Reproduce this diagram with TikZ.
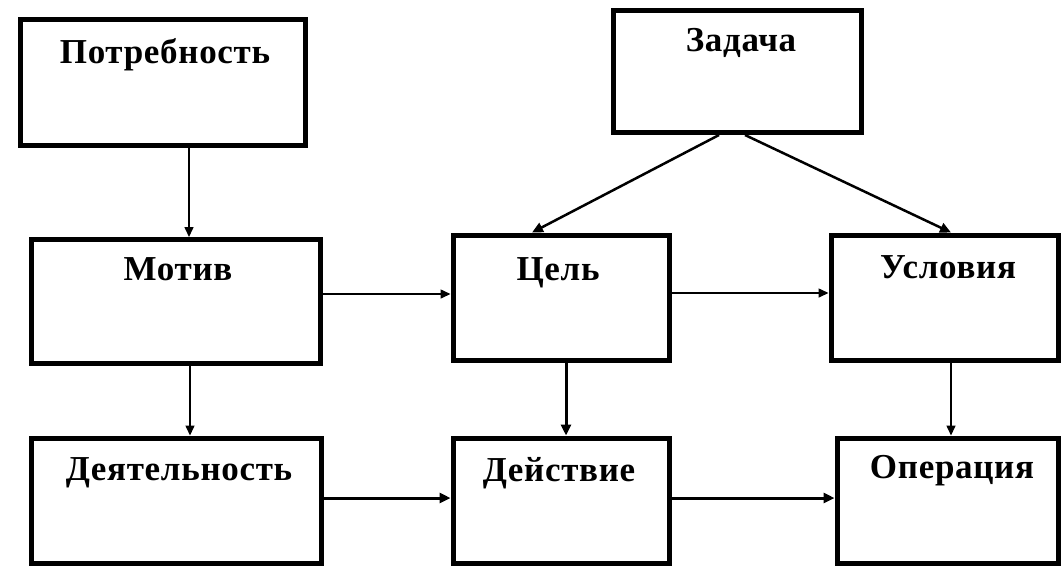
\documentclass[tikz,border=0pt]{standalone}
\usepackage{fontspec}
\setmainfont{Liberation Serif}[LetterSpace=2]
\usetikzlibrary{arrows.meta}
\tikzset{
  box/.style={draw=black, line width=5pt, inner sep=0pt, fill=white},
  lbl/.style={anchor=base, inner sep=0pt, font=\fontsize{35}{42}\selectfont\bfseries},
  arrthin/.style={line width=1.5pt, -{Triangle[length=10pt,width=9pt]}},
  arrmid/.style={line width=2.5pt, -{Triangle[length=11pt,width=10pt]}},
  arrthick/.style={line width=3pt, -{Triangle[length=11pt,width=10pt]}}
}
\begin{document}
\begin{tikzpicture}[x=1pt,y=-1pt]
\useasboundingbox (0,0) rectangle (1062,566);
\fill[white] (0,0) rectangle (1062,566);
% boxes
\node[box, minimum width=285pt, minimum height=126pt] (potr) at (162.5,82) {};
\node[box, minimum width=248pt, minimum height=122pt] (zad) at (737.5,71.5) {};
\node[box, minimum width=289pt, minimum height=124pt] (motiv) at (176,301.5) {};
\node[box, minimum width=216pt, minimum height=125pt] (cel) at (561,297.5) {};
\node[box, minimum width=227pt, minimum height=125pt] (usl) at (944.5,297.5) {};
\node[box, minimum width=289.5pt, minimum height=125pt] (deyat) at (176.25,500.5) {};
\node[box, minimum width=216pt, minimum height=125pt] (deystv) at (561,500.5) {};
\node[box, minimum width=221pt, minimum height=125pt] (oper) at (947.5,500.5) {};
% labels
\node[lbl] (tpotr) at (165,63) {Потребность};
\node[lbl] (tzad) at (741,51) {Задача};
\node[lbl] (tmotiv) at (178,280) {Мотив};
\node[lbl] (tcel) at (558,280) {Цель};
\node[lbl] (tusl) at (948,278) {Условия};
\node[lbl] (tdeyat) at (179,480) {Деятельность};
\node[lbl] (tdeystv) at (559,481) {Действие};
\node[lbl] (toper) at (952,478) {Операция};
% connectors
\draw[arrthin] ([xshift=26.5pt]potr.south) -- ([xshift=13pt]motiv.north);
\draw[arrthin] ([xshift=14pt]motiv.south) -- ([xshift=13.75pt]deyat.north);
\draw[arrthin] ([yshift=7.5pt]motiv.east) -- ([yshift=3.5pt]cel.west);
\draw[arrthin] ([yshift=4.5pt]cel.east) -- ([yshift=4.5pt]usl.west);
\draw[arrthin] ([xshift=6.5pt]usl.south) -- ([xshift=3.5pt]oper.north);
\draw[arrthick] ([xshift=5pt]cel.south) -- ([xshift=5pt]deystv.north);
\draw[arrthick] ([yshift=2.5pt]deyat.east) -- ([yshift=2.5pt]deystv.west);
\draw[arrthick] ([yshift=2.5pt]deystv.east) -- ([yshift=2.5pt]oper.west);
\draw[arrmid] ([xshift=-18.5pt]zad.south) -- ([xshift=-29pt]cel.north);
\draw[arrmid] ([xshift=7.5pt]zad.south) -- ([xshift=6.5pt]usl.north);
\end{tikzpicture}
\end{document}
